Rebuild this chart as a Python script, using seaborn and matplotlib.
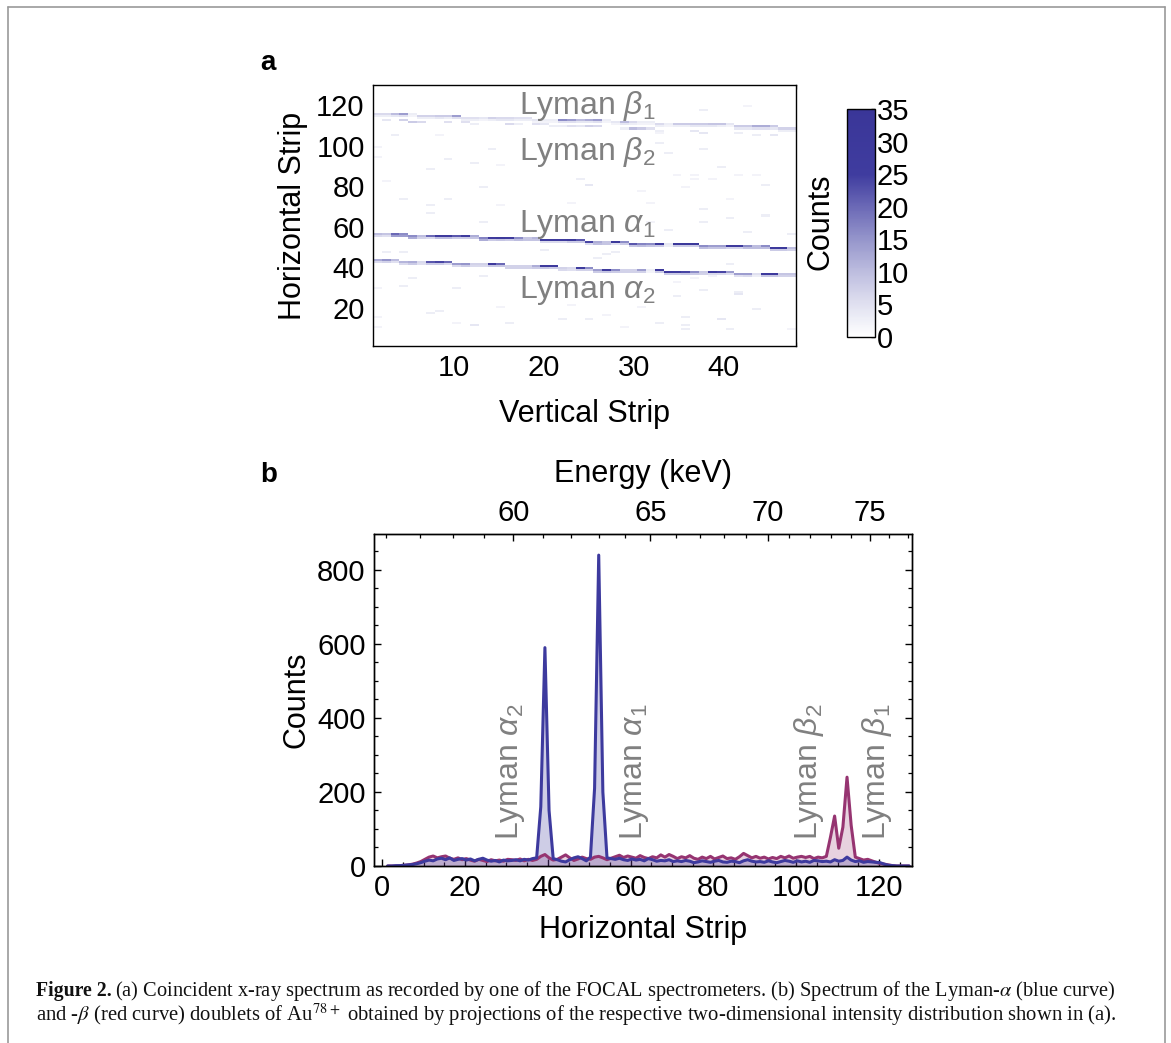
import numpy as np
import pandas as pd
import matplotlib
matplotlib.use('Agg')
import matplotlib.pyplot as plt
import seaborn as sns
from matplotlib.colors import LinearSegmentedColormap
from matplotlib.lines import Line2D

W, H = 1171, 1043

# panel a: detector lines, one value per vertical strip
alpha1_rows = [56,56,56,56,55,55,55,55,55,55,55,55,54,54,54,54,54,54,54,53,53,53,53,53,52,52,52,52,52,51,51,51,51,51,51,51,51,50,50,50,50,50,50,50,50,49,49,49]
alpha1_counts = [10,9,20,16,16,10,20,28,28,22,26,12,17,28,30,28,16,9,11,26,28,26,30,22,24,12,9,30,16,22,17,16,28,4,30,30,30,16,14,14,28,28,16,10,16,28,30,10]
alpha1_side = [6,5,14,14,12,7,6,10,10,8,8,9,12,8,9,8,10,9,9,6,6,6,8,8,6,10,9,5,8,9,10,9,8,3,8,8,8,10,9,9,7,7,10,10,10,8,8,7]
alpha2_rows = [43,43,43,42,42,42,42,42,42,41,41,41,41,41,41,40,40,40,40,40,40,39,39,39,39,38,38,38,38,38,38,38,38,37,37,37,37,37,37,37,37,36,36,36,36,36,36,36]
alpha2_counts = [12,15,10,11,12,6,22,24,20,14,15,7,7,28,20,7,7,7,12,28,28,7,6,26,16,14,28,16,7,7,14,3,28,28,26,24,16,8,26,24,14,14,14,5,28,28,9,9]
alpha2_side = [6,7,5,6,8,5,8,8,6,6,8,6,6,9,9,7,7,7,8,9,8,6,5,7,7,8,9,8,7,7,7,2,8,8,8,9,8,7,6,6,5,5,6,3,9,9,7,7]
beta1_rows = [115,115,115,115,115,114,114,114,114,114,113,113,113,113,113,113,113,113,112,112,112,112,112,112,112,112,112,111,111,111,111,111,110,110,110,110,110,110,110,110,110,109,109,109,109,109,108,108]
beta1_counts = [6,6,10,14,3,7,7,8,8,14,5,5,4,7,6,6,5,5,4,3,3,16,14,10,12,14,3,4,10,6,3,3,6,3,8,8,8,8,9,9,4,8,8,12,12,8,7,7]
beta1_side = [3,3,4,5,2,3,3,4,3,5,3,3,2,3,4,4,3,3,2,2,2,5,5,4,4,5,2,2,4,3,2,2,3,2,3,3,4,4,4,3,2,4,4,5,5,4,3,3]
beta2_rows = [112,112,112,112,111,111,111,111,111,111,111,110,110,110,110,110,110,110,110,110,109,109,109,109,109,109,108,108,108,108,108,108,107,107,107,107,107,106,106,106,106,106,106,105,105,105,105,105]
beta2_counts = [0,4,0,7,8,6,0,0,5,0,5,3,0,0,0,6,3,0,5,4,3,3,5,4,7,6,0,0,3,10,8,5,3,0,0,0,4,4,0,0,0,3,0,3,0,4,0,0]

# panel a: isolated background hits
noise_cols = [3,1,1,7,9,12,14,15,24,25,2,4,9,7,7,13,13,15,23,32,31,8,33,33,34,38,43,38,40,37,37,39,42,44,45,36,35,41,38,45,41,48,43,38,34,32,41,4,2,5,4,10,1,13,7,8,10,12,1,15,23,22,25,27,29,31,33,36,36,36,40,38,42,42,44,41,48,35,37,39,35,16,1,20,26,28,27]
noise_rows = [105,99,94,88,93,91,98,90,83,80,82,73,73,70,66,79,62,70,71,71,77,105,106,101,96,117,119,98,89,85,83,83,85,85,80,79,85,73,68,65,64,56,57,62,58,62,41,47,47,34,30,29,29,35,17,18,12,11,15,20,21,14,14,16,10,20,12,15,11,9,14,28,27,26,19,9,9,32,34,35,25,12,10,48,44,47,46]
noise_counts = [3,2,2,3,3,3,3,2,3,4,2,3,3,3,3,3,3,2,2,2,2,2,2,3,3,3,2,3,3,2,2,2,2,2,3,2,2,2,3,3,3,3,3,3,3,2,3,3,3,3,3,3,2,3,3,3,2,4,2,2,2,3,3,2,2,2,3,3,3,3,4,3,3,4,3,3,2,2,2,2,3,3,2,3,3,3,3]

x_ticks_a = [10, 20, 30, 40]
y_ticks_a = [20, 40, 60, 80, 100, 120]
cbar_ticks = [0, 5, 10, 15, 20, 25, 30, 35]

# panel b: projected spectra per horizontal strip
strips = list(range(1, 128))
blue_counts = [0,0,1,1,2,3,4,6,9,13,
               16,14,19,21,17,22,15,18,20,16,
               19,14,18,21,16,13,15,11,16,14,
               15,17,14,18,16,20,
               22,160,590,150,20,
               17,13,11,17,22,25,20,14,
               24,210,840,200,22,
               20,18,21,17,15,19,
               16,18,14,20,17,13,15,14,17,12,
               14,12,15,13,9,11,14,12,10,13,
               15,11,10,13,12,9,14,17,13,11,
               12,10,14,11,9,12,15,13,10,14,
               11,13,10,15,14,12,13,
               11,17,13,15,24,16,12,
               14,10,12,11,10,9,5,2,1,0,0,0,0]
red_counts = [0,0,0,1,2,3,5,8,12,18,
              24,27,22,25,27,21,18,22,17,20,
              16,13,18,15,12,17,14,16,13,18,
              17,15,19,14,18,15,
              18,26,31,22,16,
              18,24,30,22,15,19,24,20,
              18,24,26,22,17,
              21,25,29,23,27,24,
              21,28,23,20,25,22,30,24,31,26,
              20,25,22,28,21,18,24,20,26,19,
              23,27,20,22,18,25,34,28,22,26,
              21,24,19,23,20,26,22,27,21,24,
              26,23,26,20,24,22,26,
              78,135,48,105,240,110,24,
              20,16,18,14,10,7,5,3,1,0,0,0,0]

energy_labels = ['60', '65', '70', '75']
energy_major = [31.69, 64.79, 93.2, 117.88]
energy_minor = [0.98,9.15,16.97,24.46,38.84,45.64,52.28,58.66,70.91,76.78,82.48,87.93,98.39,103.33,108.43,113.2,122.47,126.98]

caption_1 = '(a) Coincident x-ray spectrum as recorded by one of the FOCAL spectrometers. (b) Spectrum of the Lyman-$\\alpha$ (blue curve)'
caption_2 = 'and -$\\beta$ (red curve) doublets of Au$^{78+}$ obtained by projections of the respective two-dimensional intensity distribution shown in (a).'

BLUE = '#3d3a9e'
RED = '#963471'
GRAY = '#808080'

sns.set_theme(style='ticks')
plt.rcParams['font.family'] = ['Liberation Sans', 'DejaVu Sans']
plt.rcParams['mathtext.fontset'] = 'custom'
plt.rcParams['mathtext.rm'] = 'Liberation Sans'
plt.rcParams['mathtext.it'] = 'Liberation Sans:italic'
plt.rcParams['xtick.direction'] = 'in'
plt.rcParams['ytick.direction'] = 'in'
plt.rcParams['axes.linewidth'] = 1.0
plt.rcParams['axes.edgecolor'] = 'black'
plt.rcParams['axes.labelcolor'] = 'black'
plt.rcParams['xtick.labelcolor'] = 'black'
plt.rcParams['ytick.labelcolor'] = 'black'
plt.rcParams['text.color'] = 'black'


def box(l, t, r, b):
    return [l / W, 1 - b / H, (r - l) / W, (b - t) / H]


def label(x, y, s, **kw):
    return fig.text(x / W, 1 - y / H, s, **kw)


def style_ticks(ax, size=21):
    ax.tick_params(which='major', length=5, width=1.0, labelsize=size, pad=6, color='black')
    ax.tick_params(which='minor', length=3, width=0.9, color='black')


fig = plt.figure(figsize=(W / 100, H / 100), dpi=100, facecolor='white')

# outer frame of the page figure
for xs, ys in [([8, 8], [7, H]), ([8, 1165], [7, 7]), ([1165, 1165], [7, H])]:
    fig.add_artist(Line2D([x / W for x in xs], [1 - y / H for y in ys], color='#9a9a9a', lw=1.2))

# panel a
matrix = np.zeros((129, 48))
for c in range(48):
    matrix[alpha1_rows[c] - 1, c] = alpha1_counts[c]
    matrix[alpha1_rows[c] - 2, c] = alpha1_side[c]
    matrix[alpha2_rows[c] - 1, c] = alpha2_counts[c]
    matrix[alpha2_rows[c] - 2, c] = alpha2_side[c]
    matrix[beta1_rows[c] - 1, c] = beta1_counts[c]
    matrix[beta1_rows[c] - 2, c] = beta1_side[c]
    matrix[beta2_rows[c] - 1, c] = beta2_counts[c]
for c, r, n in zip(noise_cols, noise_rows, noise_counts):
    matrix[r - 1, c - 1] = n

counts_cmap = LinearSegmentedColormap.from_list('counts', [
    (0, '#ffffff'), (3 / 35, '#ecedf6'), (5 / 35, '#e0e0f0'), (10 / 35, '#bdbddf'),
    (15 / 35, '#9595cb'), (20 / 35, '#6b69b6'), (25 / 35, '#3f3c9f'), (1, '#3a3698')])

ax_a = fig.add_axes(box(373, 85, 796, 346))
ax_c = fig.add_axes(box(847, 109, 875, 337))
sns.heatmap(matrix, ax=ax_a, cbar_ax=ax_c, cmap=counts_cmap, vmin=0, vmax=35,
            xticklabels=False, yticklabels=False, cbar_kws={'ticks': cbar_ticks})
ax_a.invert_yaxis()
for s in ax_a.spines.values():
    s.set_visible(True)
    s.set_linewidth(1.0)
ax_a.set_xticks([(v - 1) * 48 / 47 for v in x_ticks_a], x_ticks_a)
ax_a.set_xticks([(v - 1) * 48 / 47 for v in range(2, 49, 2) if v not in x_ticks_a], minor=True)
ax_a.set_yticks([v - 1 for v in y_ticks_a], y_ticks_a, rotation=0)
ax_a.set_yticks([v - 1 for v in range(5, 130, 5) if v not in y_ticks_a], minor=True)
style_ticks(ax_a)
ax_a.tick_params(axis='both', which='both', top=True, right=True)
ax_a.set_xlabel('Vertical Strip', fontsize=22, labelpad=12)
ax_a.set_ylabel('Horizontal Strip', fontsize=22, labelpad=6)

cb = ax_a.collections[0].colorbar
cb.outline.set_visible(True)
cb.outline.set_linewidth(1.0)
cb.outline.set_edgecolor('black')
ax_c.set_yticks(range(0, 36), minor=True)
ax_c.tick_params(which='major', right=True, length=3, width=1.0, labelsize=21, pad=1, direction='in')
ax_c.tick_params(which='minor', right=True, length=1.5, width=0.7, direction='in')
label(820, 222, 'Counts', fontsize=22, rotation=90, ha='center', va='center')

for y, s in [(114, 'Lyman $\\beta_1$'), (160, 'Lyman $\\beta_2$'), (232, 'Lyman $\\alpha_1$'), (298, 'Lyman $\\alpha_2$')]:
    label(519, y, s, fontsize=23, color=GRAY, ha='left', va='baseline')

# panel b
spectra = pd.DataFrame({'strip': np.array(strips) + 0.3, 'blue': blue_counts, 'red': red_counts})
ax_b = fig.add_axes(box(374, 534, 912, 866))
ax_b.fill_between(spectra['strip'], spectra['red'], color=RED, alpha=0.22, lw=0)
ax_b.fill_between(spectra['strip'], spectra['blue'], color=BLUE, alpha=0.25, lw=0)
sns.lineplot(data=spectra, x='strip', y='red', ax=ax_b, color=RED, lw=2.2, estimator=None)
sns.lineplot(data=spectra, x='strip', y='blue', ax=ax_b, color=BLUE, lw=2.2, estimator=None)
ax_b.set_xlim(-2, 128)
ax_b.set_ylim(0, 897)
ax_b.set_xticks(range(0, 121, 20))
ax_b.set_xticks([v for v in range(5, 128, 5) if v % 20 != 0], minor=True)
ax_b.set_yticks(range(0, 801, 200))
ax_b.set_yticks([v for v in range(50, 900, 50) if v % 200 != 0], minor=True)
style_ticks(ax_b)
ax_b.tick_params(axis='both', which='both', right=True)
ax_b.set_xlabel('Horizontal Strip', fontsize=22, labelpad=9)
ax_b.set_ylabel('Counts', fontsize=22, labelpad=4)

ax_top = ax_b.twiny()
ax_top.set_xlim(ax_b.get_xlim())
ax_top.set_xticks(energy_major, energy_labels)
ax_top.set_xticks(energy_minor, minor=True)
style_ticks(ax_top)
ax_top.tick_params(axis='x', which='major', pad=5)
ax_top.set_xlabel('Energy (keV)', fontsize=22, labelpad=12)
ax_top.grid(False)

for x, s in [(518, 'Lyman $\\alpha_2$'), (642, 'Lyman $\\alpha_1$'), (817, 'Lyman $\\beta_2$'), (885, 'Lyman $\\beta_1$')]:
    label(x, 840, s, fontsize=23, color=GRAY, rotation=90, rotation_mode='anchor', ha='left', va='baseline')

label(260, 70, 'a', fontsize=20, fontweight='bold')
label(260, 482, 'b', fontsize=20, fontweight='bold')

# caption
serif = ['Liberation Serif', 'DejaVu Serif']
label(36, 996, 'Figure 2.', family=serif, fontsize=14.2, fontweight='bold', color='#111111')
label(115, 996, caption_1, family=serif, fontsize=14.7, color='#111111', math_fontfamily='stix')
label(36, 1021, caption_2, family=serif, fontsize=14.82, color='#111111', math_fontfamily='stix')

fig.savefig('out.png', dpi=100)
plt.close(fig)
